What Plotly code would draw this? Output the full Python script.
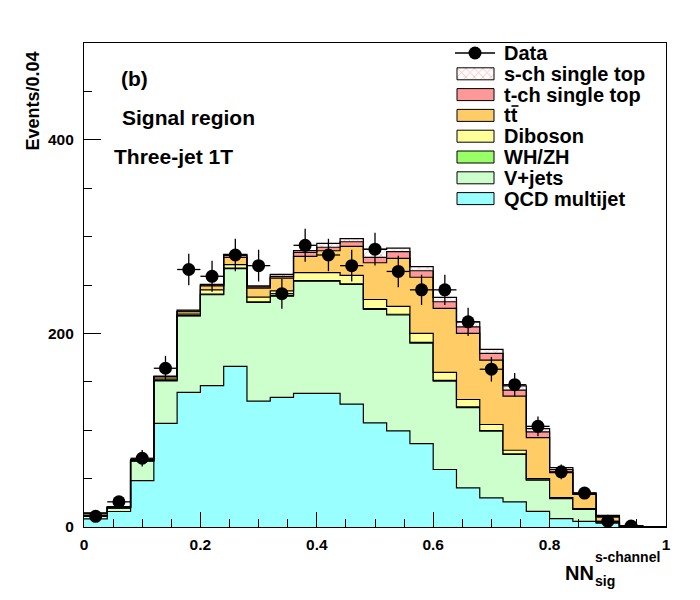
import numpy as np
import plotly.graph_objects as go

# ---------------- data ----------------
bin_edges = [0.00, 0.04, 0.08, 0.12, 0.16, 0.20, 0.24, 0.28, 0.32, 0.36, 0.40,
             0.44, 0.48, 0.52, 0.56, 0.60, 0.64, 0.68, 0.72, 0.76, 0.80,
             0.84, 0.88, 0.92, 0.96, 1.00]

qcd     = [8.3, 16, 48, 107, 139, 146, 166, 130, 134, 138, 138, 127, 107.6, 99.3,
           86.2, 59.4, 40.4, 30, 25.9, 16.2, 8.7, 5.9, 4, 0.3, 0]
vjets   = [2.7, 3.5, 20, 44, 79, 94, 101, 102, 104.6, 116, 116, 123.6, 117.2, 119.7,
           103.8, 91.3, 83, 69, 49, 32.1, 20.6, 12.4, 1, 0.3, 0.5]
whzh    = [0.1, 0.2, 0.3, 0.4, 0.4, 0.5, 0.5, 0.5, 0.5, 0.6, 0.6, 0.7, 0.7, 0.8,
           0.8, 0.8, 0.8, 0.7, 0.6, 0.5, 0.4, 0.3, 0.2, 0, 0]
diboson = [0.9, 0.3, 0.4, 1.3, 1.6, 4.5, 3.5, 5, 4.9, 8.1, 8.1, 8.7, 9.5, 8.2,
           9.2, 8.2, 7.5, 6.2, 3.8, 1.2, 0.6, 0.4, 0.5, 0.1, 0]
ttbar   = [1.8, 0.5, 0.7, 2.3, 2.4, 4, 7.5, 9.3, 13, 16.9, 22.7, 30, 38, 49.5,
           58, 66.1, 68.3, 66.5, 55.9, 42.4, 25.9, 14.8, 4.5, 0.2, 0]
tchan   = [0.4, 0.3, 0.2, 0.5, 0.6, 1, 2.1, 1.2, 2, 4.2, 3.6, 4.7, 5.6, 6.9,
           6.7, 6.9, 6.8, 6.9, 6.2, 5.8, 3.2, 0.7, 0.8, 0.1, 0]
schan   = [0.3, 0.2, 0.2, 0.5, 1.0, 0.6, 1.0, 1.0, 2, 1.7, 4, 3.3, 8.2, 3.6,
           4.3, 4.5, 5.2, 4.1, 4.4, 3.5, 2, 0.7, 1, 0.1, 0]
data    = [11, 26, 71, 164, 266, 259, 281, 270, 241, 291, 281, 270, 287, 264,
           245, 245, 212, 163, 147, 104, 57, 35, 6, 1, None]

labels  = ["QCD multijet", "V+jets", "WH/ZH", "Diboson", "tt", "t-ch single top",
           "s-ch single top"]
colors  = ["#99FFFF", "#CCFFCC", "#99FF66", "#FFFF99", "#FFCC66", "#FF9999", "white"]

# ---------------- geometry of the page (screen pixels) ----------------
W, H = 700, 600
OFF = 8                       # page body margin
SL, SR, ST, SB = 84, 666, 43, 527   # plot area on screen
PW, PH = SR - SL, SB - ST


def px(xp):
    return (xp - SL) / PW


def py(yp):
    return (SB - yp) / PH


FONT = "Liberation Sans"

fig = go.Figure()

# ---------------- stacked histogram ----------------
edges = np.array(bin_edges)
width = edges[1:] - edges[:-1]
centers = edges[:-1] + width / 2
layers = np.array([qcd, vjets, whzh, diboson, ttbar, tchan, schan], dtype=float)
cum = np.cumsum(layers, axis=0)
HATCH = dict(shape="x", fgcolor="#FF6666", bgcolor="white", size=6, solidity=0.25)

for i in range(len(layers)):
    yv = np.append(cum[i], cum[i][-1])
    kw = {"fillpattern": HATCH} if i == len(layers) - 1 else {}
    fig.add_trace(go.Scatter(
        x=edges, y=yv, mode="lines", line=dict(shape="hv", color="black", width=1.2),
        fill="tozeroy" if i == 0 else "tonexty", fillcolor=colors[i],
        hoverinfo="skip", name=labels[i], **kw))

# ---------------- data points ----------------
dvals = np.array([np.nan if d is None else d for d in data], dtype=float)
fig.add_trace(go.Scatter(
    x=centers, y=dvals, mode="markers",
    marker=dict(color="black", size=13, symbol="circle"),
    error_y=dict(type="data", array=np.sqrt(np.nan_to_num(dvals)), color="black",
                 thickness=1.3, width=0),
    error_x=dict(type="data", array=width / 2, color="black", thickness=1.3, width=0),
    name="Data"))

# ---------------- custom legend (overlay axes in plot-fraction units) ----------------
leg_rows = [53 + 20.8 * k for k in range(8)]
box_x0, box_x1 = px(457), px(494)
hh = 6 / PH
leg_order = [6, 5, 4, 3, 2, 1, 0]  # s-ch ... QCD
fig.add_trace(go.Scatter(
    x=[px(455), px(495)], y=[py(leg_rows[0])] * 2, mode="lines",
    line=dict(color="black", width=1.3), xaxis="x2", yaxis="y2", hoverinfo="skip"))
fig.add_trace(go.Scatter(
    x=[px(475)], y=[py(leg_rows[0])], mode="markers",
    marker=dict(color="black", size=13), xaxis="x2", yaxis="y2", hoverinfo="skip"))
for r, li in enumerate(leg_order, start=1):
    yc = py(leg_rows[r])
    kw = {"fillpattern": HATCH} if li == 6 else {}
    fig.add_trace(go.Scatter(
        x=[box_x0, box_x1, box_x1, box_x0, box_x0],
        y=[yc - hh, yc - hh, yc + hh, yc + hh, yc - hh],
        mode="lines", fill="toself", fillcolor=colors[li],
        line=dict(color="black", width=1), xaxis="x2", yaxis="y2",
        hoverinfo="skip", **kw))

annotations = []
leg_text = ["Data"] + [labels[i] for i in leg_order]
for r, t in enumerate(leg_text):
    annotations.append(dict(
        x=px(502), y=py(leg_rows[r]), xref="paper", yref="paper",
        text=f"<b>{t}</b>", showarrow=False, xanchor="left", yanchor="middle",
        font=dict(family=FONT, size=20, color="black")))

# overline of the anti-top in the legend
shapes = [dict(type="line", xref="paper", yref="paper",
               x0=px(511.5), x1=px(518.5), y0=py(106), y1=py(106),
               line=dict(color="black", width=1.6))]

# text labels in the plot
for t, xl, yc in [("(b)", 119, 78), ("Signal region", 120, 117), ("Three-jet 1T", 112, 156.5)]:
    annotations.append(dict(
        x=px(xl), y=py(yc), xref="paper", yref="paper", text=f"<b>{t}</b>",
        showarrow=False, xanchor="left", yanchor="middle",
        font=dict(family=FONT, size=21, color="black")))

# axis titles
annotations.append(dict(
    x=px(32), y=py(50), xref="paper", yref="paper", text="<b>Events/0.04</b>",
    textangle=-90, showarrow=False, xanchor="center", yanchor="top",
    font=dict(family=FONT, size=18, color="black")))
annotations.append(dict(
    x=px(564), y=py(573), xref="paper", yref="paper", text="<b>NN</b>",
    showarrow=False, xanchor="left", yanchor="middle", borderpad=0,
    font=dict(family=FONT, size=20, color="black")))
annotations.append(dict(
    x=px(594), y=py(557), xref="paper", yref="paper", text="<b>s-channel</b>",
    showarrow=False, xanchor="left", yanchor="middle", borderpad=0,
    font=dict(family=FONT, size=14, color="black")))
annotations.append(dict(
    x=px(594), y=py(581), xref="paper", yref="paper", text="<b>sig</b>",
    showarrow=False, xanchor="left", yanchor="middle", borderpad=0,
    font=dict(family=FONT, size=14, color="black")))

tickfont = dict(family=FONT, size=15.5, color="black", weight="bold")
fig.update_layout(
    width=W, height=H, autosize=False,
    margin=dict(l=SL - OFF, r=W - (SR - OFF), t=ST - OFF, b=H - (SB - OFF)),
    paper_bgcolor="white", plot_bgcolor="white",
    showlegend=False,
    annotations=annotations, shapes=shapes,
    xaxis=dict(range=[0, 1], showline=True, linecolor="black", linewidth=1.2,
               mirror=True, ticks="inside", ticklen=15, tickwidth=1, tickcolor="black",
               tick0=0, dtick=0.2, showgrid=False, zeroline=False, tickfont=tickfont,
               ticklabelstandoff=3,
               minor=dict(ticks="inside", ticklen=8, dtick=0.05, tick0=0,
                          tickcolor="black", tickwidth=1, showgrid=False)),
    yaxis=dict(range=[0, 500], showline=True, linecolor="black", linewidth=1.2,
               mirror=True, ticks="inside", ticklen=17, tickwidth=1, tickcolor="black",
               tick0=0, dtick=200, showgrid=False, zeroline=False, tickfont=tickfont,
               ticklabelstandoff=6,
               minor=dict(ticks="inside", ticklen=8, dtick=50, tick0=0,
                          tickcolor="black", tickwidth=1, showgrid=False)),
    xaxis2=dict(range=[0, 1], overlaying="x", visible=False, fixedrange=True),
    yaxis2=dict(range=[0, 1], overlaying="y", visible=False, fixedrange=True),
)

fig.write_html("out.html")
